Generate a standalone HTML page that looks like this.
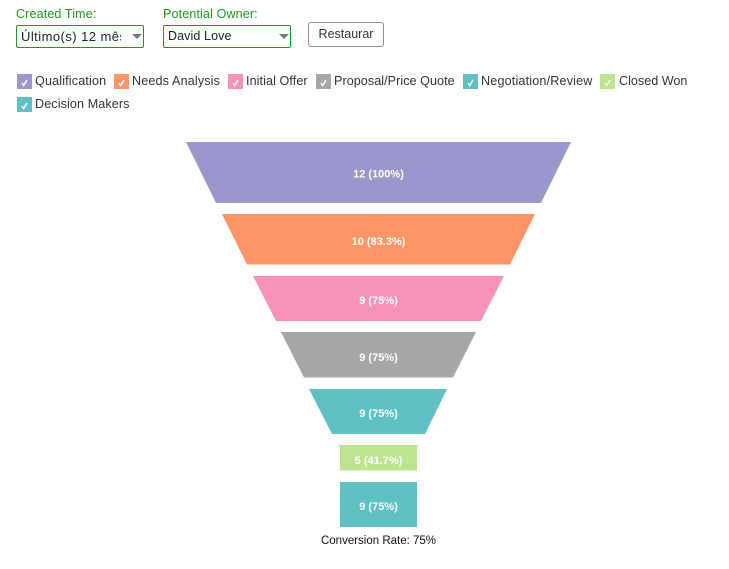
<!DOCTYPE html>
<html>
<head>
<meta charset="utf-8">
<style>
html,body{margin:0;padding:0;background:#fff;}
body{width:729px;height:569px;position:relative;overflow:hidden;font-family:"Liberation Sans",sans-serif;color:#333;}
.a{position:absolute;white-space:nowrap;}
.lbl{color:#1a9a1a;font-size:12.5px;line-height:14px;top:7px;letter-spacing:.15px;}
.sel{top:25px;height:21px;width:126px;border:1px solid #1a9a1a;border-radius:2px;font-size:13px;line-height:21px;color:#222;overflow:hidden;}
.sel span{position:absolute;left:4px;top:0;}
.tri{position:absolute;top:8px;width:0;height:0;border-left:5px solid transparent;border-right:5px solid transparent;border-top:5px solid #777;}
.btn{left:308px;top:22px;width:74px;height:23px;border:1px solid #8f8f8f;border-radius:3px;font-size:12.5px;line-height:22px;text-align:center;color:#333;}
.t{font-size:12.6px;line-height:15px;color:#333;}
</style>
</head>
<body>
<div class="a lbl" style="left:16px">Created Time:</div>
<div class="a lbl" style="left:163px">Potential Owner:</div>
<div class="a sel" style="left:16px"><span style="width:100px;overflow:hidden;display:block;letter-spacing:.45px">Último(s) 12 mês</span><i class="tri" style="left:115px"></i></div>
<div class="a sel" style="left:163px"><span style="font-size:12.5px;letter-spacing:.1px">David Love</span><i class="tri" style="left:115px"></i></div>
<div class="a btn">Restaurar</div>

<svg class="a" style="left:0;top:0" width="729" height="569" viewBox="0 0 729 569">
<defs>
<path id="ck" d="M5 9 L6.7 11.5 L10 6" fill="none" stroke="#fff" stroke-width="1.5"/>
</defs>
<rect x="17" y="74" width="15" height="15" fill="#9a97cc"/><use href="#ck" x="17" y="74"/>
<rect x="114" y="74" width="15" height="15" fill="#ff9566"/><use href="#ck" x="114" y="74"/>
<rect x="228" y="74" width="15" height="15" fill="#f992ba"/><use href="#ck" x="228" y="74"/>
<rect x="316" y="74" width="15" height="15" fill="#a7a7a7"/><use href="#ck" x="316" y="74"/>
<rect x="463" y="74" width="15" height="15" fill="#5fc0c6"/><use href="#ck" x="463" y="74"/>
<rect x="600" y="74" width="15" height="15" fill="#bde48f"/><use href="#ck" x="600" y="74"/>
<rect x="17" y="97" width="15" height="15" fill="#5fc0c6"/><use href="#ck" x="17" y="97"/>

<polygon points="186,142 571,142 541,203 216,203" fill="#9a97cc"/>
<polygon points="222,214 535,214 510,264.5 247,264.5" fill="#ff9566"/>
<polygon points="253,276 504,276 481,321 276,321" fill="#f992ba"/>
<polygon points="281,332 476,332 453,377.5 304,377.5" fill="#a7a7a7"/>
<polygon points="309,389 447,389 425,434 332,434" fill="#5fc0c6"/>
<polygon points="338,445 419,445 417,447 417,470.5 340,470.5 340,447" fill="#bde48f"/>
<rect x="340" y="482" width="77" height="45" fill="#5fc0c6"/>
<g font-family="Liberation Sans, sans-serif" font-size="11" font-weight="bold" fill="#fff" text-anchor="middle">
<text x="378.500" y="177.500">12 (100%)</text>
<text x="378.500" y="245">10 (83.3%)</text>
<text x="378.500" y="304">9 (75%)</text>
<text x="378.500" y="361">9 (75%)</text>
<text x="378.500" y="417">9 (75%)</text>
<text x="378.500" y="464">5 (41.7%)</text>
<text x="378.500" y="510">9 (75%)</text>
</g>
<text x="378.500" y="544" font-family="Liberation Sans, sans-serif" font-size="11.500" fill="#111" text-anchor="middle">Conversion Rate: 75%</text>
</svg>

<div class="a t" style="left:35px;top:74px;letter-spacing:.15px">Qualification</div>
<div class="a t" style="left:132px;top:74px;letter-spacing:.14px">Needs Analysis</div>
<div class="a t" style="left:246px;top:74px;letter-spacing:.08px">Initial Offer</div>
<div class="a t" style="left:334px;top:74px;letter-spacing:.05px">Proposal/Price Quote</div>
<div class="a t" style="left:481px;top:74px;letter-spacing:.17px">Negotiation/Review</div>
<div class="a t" style="left:619px;top:74px">Closed Won</div>
<div class="a t" style="left:35px;top:97px;letter-spacing:.1px">Decision Makers</div>
</body>
</html>
